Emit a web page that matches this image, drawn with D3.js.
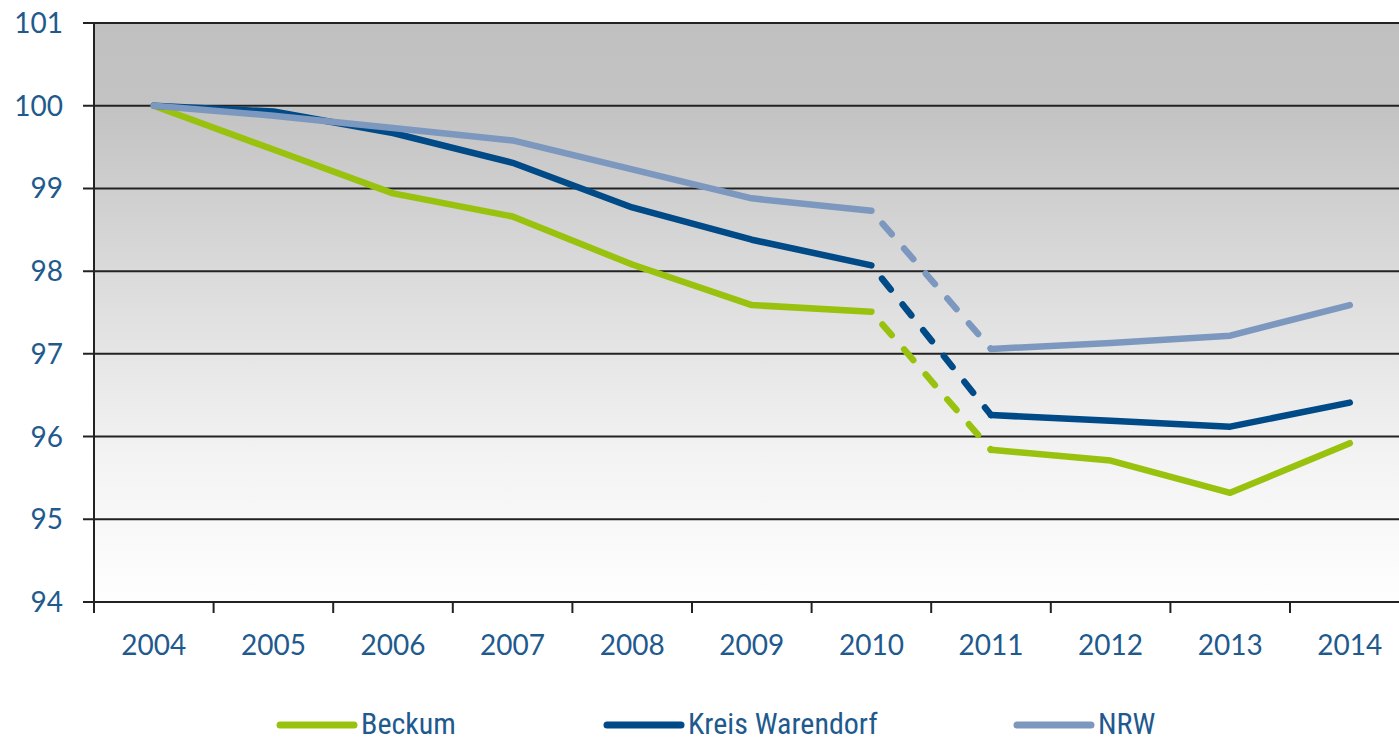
<!DOCTYPE html>
<html lang="de">
<head>
<meta charset="utf-8">
<title>Bevölkerungsentwicklung</title>
<script src="https://cdn.jsdelivr.net/npm/d3@7"></script>
<style>
  html, body { margin: 0; padding: 0; background: #fff; }
  svg text { font-family: Lato, "Open Sans", sans-serif; fill: #1f5a8e; }
  .legend text { font-family: "Liberation Sans Narrow", "Roboto Condensed", sans-serif; }
</style>
</head>
<body>
<script>
// data (index, 2004 = 100)
var years = ["2004","2005","2006","2007","2008","2009","2010","2011","2012","2013","2014"];
var yTicks = [94, 95, 96, 97, 98, 99, 100, 101];
var beckum = [100, 99.47, 98.94, 98.66, 98.08, 97.59, 97.51, 95.84, 95.71, 95.32, 95.92];
var warendorf = [100, 99.93, 99.67, 99.31, 98.77, 98.38, 98.07, 96.26, 96.19, 96.12, 96.41];
var nrw = [100, 99.88, 99.73, 99.58, 99.23, 98.88, 98.73, 97.06, 97.13, 97.22, 97.59];
var seriesNames = ["Beckum", "Kreis Warendorf", "NRW"];
var seriesColors = ["#99c20e", "#004a87", "#7c98bf"];

var w = 1399, h = 740;
var plotLeft = 94, plotTop = 23, plotBottom = 602;

var svg = d3.select("body").append("svg")
  .attr("width", w).attr("height", h);

var x = d3.scaleBand().domain(years).range([plotLeft, plotLeft + 11 * 119.6]);
var y = d3.scaleLinear().domain([94, 101]).range([plotBottom, plotTop]);

// background gradient
var grad = svg.append("defs").append("linearGradient")
  .attr("id", "bg").attr("x1", 0).attr("y1", 0).attr("x2", 0).attr("y2", 1);
[[0, "#c0c0c0"], [0.15, "#c3c3c3"], [0.5, "#e0e0e0"], [0.75, "#f3f3f3"], [1, "#fefefe"]]
  .forEach(function(s) { grad.append("stop").attr("offset", s[0]).attr("stop-color", s[1]); });

svg.append("rect")
  .attr("x", plotLeft).attr("y", plotTop)
  .attr("width", w - plotLeft).attr("height", plotBottom - plotTop)
  .attr("fill", "url(#bg)");

// gridlines
svg.selectAll("line.grid")
  .data(yTicks)
  .enter().append("line")
  .attr("class", "grid")
  .attr("x1", plotLeft - 11).attr("x2", w)
  .attr("y1", function(d) { return y(d); })
  .attr("y2", function(d) { return y(d); })
  .attr("stroke", "#222").attr("stroke-width", 2);

// y axis line
svg.append("line")
  .attr("x1", plotLeft).attr("x2", plotLeft)
  .attr("y1", plotTop).attr("y2", plotBottom + 11)
  .attr("stroke", "#222").attr("stroke-width", 2);

// x tick marks (between categories)
var xTickPos = years.map(function(d) { return x(d); }).slice(1);
svg.selectAll("line.xtick")
  .data(xTickPos)
  .enter().append("line")
  .attr("class", "xtick")
  .attr("x1", function(d) { return d; }).attr("x2", function(d) { return d; })
  .attr("y1", plotBottom).attr("y2", plotBottom + 11)
  .attr("stroke", "#222").attr("stroke-width", 2);

// y labels
svg.selectAll("text.ylab")
  .data(yTicks)
  .enter().append("text")
  .attr("class", "ylab")
  .attr("x", 63)
  .attr("y", function(d) { return y(d) + 10; })
  .attr("text-anchor", "end")
  .attr("font-size", "28px")
  .text(function(d) { return d; });

// x labels
svg.selectAll("text.xlab")
  .data(years)
  .enter().append("text")
  .attr("class", "xlab")
  .attr("x", function(d) { return x(d) + x.bandwidth() / 2; })
  .attr("y", 655)
  .attr("text-anchor", "middle")
  .attr("font-size", "28px")
  .text(function(d) { return d; });

// lines: solid before 2010 and after 2011, dashed between
var allSeries = [beckum, warendorf, nrw];
var line = d3.line()
  .x(function(d) { return x(d.year) + x.bandwidth() / 2; })
  .y(function(d) { return y(d.v); });

allSeries.forEach(function(vals, k) {
  var pts = vals.map(function(v, i) { return { year: years[i], v: v }; });
  var parts = [
    { data: pts.slice(0, 7), dash: null },
    { data: pts.slice(6, 8), dash: "14,19" },
    { data: pts.slice(7), dash: null }
  ];
  parts.forEach(function(p) {
    svg.append("path")
      .datum(p.data)
      .attr("d", line)
      .attr("fill", "none")
      .attr("stroke", seriesColors[k])
      .attr("stroke-width", 6.5)
      .attr("stroke-linejoin", "round")
      .attr("stroke-linecap", "round")
      .attr("stroke-dasharray", p.dash)
      .attr("stroke-dashoffset", p.dash ? -17 : null);
  });
});

// legend
var legendX = [280, 607, 1017];
var legend = svg.append("g").attr("class", "legend");
seriesNames.forEach(function(name, k) {
  legend.append("line")
    .attr("x1", legendX[k]).attr("x2", legendX[k] + 74)
    .attr("y1", 725).attr("y2", 725)
    .attr("stroke", seriesColors[k]).attr("stroke-width", 7)
    .attr("stroke-linecap", "round");
  legend.append("text")
    .attr("x", legendX[k] + 81)
    .attr("y", 734)
    .attr("font-size", "30px")
    .text(name);
});
</script>
</body>
</html>
